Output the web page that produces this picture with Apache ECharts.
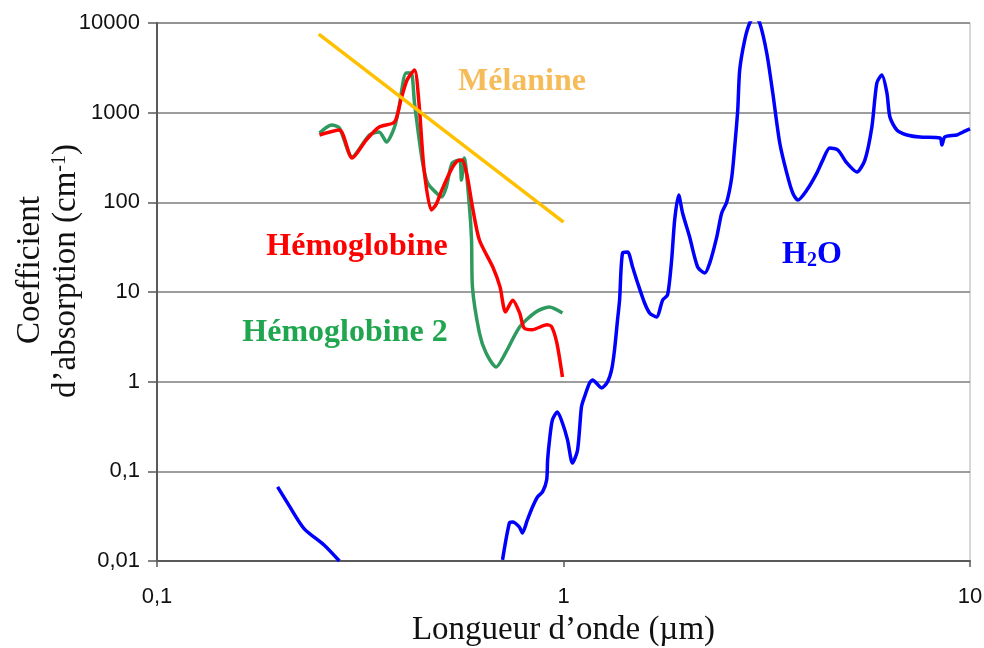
<!DOCTYPE html>
<html>
<head>
<meta charset="utf-8">
<script src="https://cdn.jsdelivr.net/npm/echarts@6/dist/echarts.min.js"></script>
<style>html,body{margin:0;padding:0;background:#fff}#c{width:984px;height:648px}</style>
</head>
<body>
<div id="c"></div>
<script>
// Wavelength (µm) and absorption coefficient (cm-1) pairs
var melanineX = [0.25, 1.0];
var melanineY = [7500, 60];

var hemoX = [0.251,0.281,0.302,0.327,0.352,0.384,0.398,0.412,0.43,0.441,0.454,0.473,0.486,0.502,0.529,0.548,0.563,0.58,0.597,0.621,0.67,0.698,0.72,0.75,0.78,0.80,0.837,0.91,0.935,0.963,0.994];
var hemoY = [564,641,312,495,692,787,1384,2300,2990,1283,230,82,95,137,230,289,297,192,89,38,19,11.4,6.0,8.1,5.84,3.97,3.8,4.3,4.1,2.7,1.13];

var hemo2X = [0.251,0.269,0.281,0.302,0.333,0.352,0.367,0.384,0.394,0.41,0.422,0.43,0.449,0.463,0.487,0.502,0.515,0.532,0.555,0.561,0.57,0.587,0.594,0.597,0.621,0.645,0.683,0.72,0.78,0.855,0.922,0.994];
var hemo2Y = [593,728,674,321,564,609,471,692,1157,2768,2768,1283,297,164,127,115,148,275,297,177,312,89,38,11.4,3.5,2.09,1.46,2.09,4.07,5.99,6.8,5.84];

var h2oUvX = [0.198,0.211,0.23,0.258,0.281];
var h2oUvY = [0.067,0.042,0.023,0.015,0.0100];

var h2oIrX = [0.708,0.736,0.749,0.779,0.792,0.815,0.839,0.863,0.888,0.909,0.914,0.924,0.939,0.966,0.994,1.023,1.052,1.083,1.107,1.126,1.159,1.179,1.241,1.283,1.313,1.335,1.358,1.374,1.397,1.438,1.479,1.522,1.583,1.629,1.694,1.754,1.803,1.845,1.877,1.920,1.963,2.043,2.138,2.225,2.289,2.382,2.450,2.521,2.594,2.637,2.683,2.713,2.791,2.871,2.954,3.039,3.162,3.272,3.404,3.542,3.664,3.771,3.968,4.199,4.344,4.519,4.73,4.977,5.268,5.513,5.736,5.90,6.07,6.246,6.353,6.607,6.998,7.53,8.44,8.53,8.67,9.29,9.61,10];
var h2oIrY = [0.0103,0.0265,0.0272,0.0239,0.0205,0.0287,0.040,0.0518,0.0589,0.080,0.134,0.224,0.374,0.459,0.346,0.224,0.124,0.173,0.522,0.675,0.967,1.045,0.851,0.991,1.35,2.25,4.87,8.15,27.2,27.9,19.0,12.6,7.54,5.83,5.26,8.15,9.27,22.7,63.5,121,76,41,19,16.3,21,41,76,101,192,414,1071,2990,6460,10000,12000,10000,4630,1656,459,212,127,106,137,212,296,404,383,275,218,296,692,2143,2630,1656,895,641,564,535,522,436,535,564,608,658];

var xTicks = [0.1, 1, 10];
var yTicks = [0.01, 0.1, 1, 10, 100, 1000, 10000];

function pairs(xs, ys) { return xs.map(function (x, i) { return [x, ys[i]]; }); }
function fmt(v) { return String(Number(Number(v).toPrecision(6))).replace('.', ','); }

var chart = echarts.init(document.getElementById('c'), null, { renderer: 'canvas' });
var lineCommon = { type: 'line', showSymbol: false, symbol: 'none', smooth: 0.25, clip: true };

chart.setOption({
  animation: false,
  backgroundColor: '#ffffff',
  grid: { left: 157, right: 14, top: 23, bottom: 87, show: true, borderColor: '#b0b0b0', borderWidth: 1, containLabel: false, outerBoundsMode: 'none' },
  xAxis: {
    type: 'log', logBase: 10, min: xTicks[0], max: xTicks[xTicks.length - 1],
    axisLine: { lineStyle: { color: '#5a5a5a', width: 2 } },
    axisTick: { show: true, length: 6, lineStyle: { color: '#5a5a5a', width: 1.5 } },
    axisLabel: { fontFamily: 'Liberation Sans', fontSize: 22, color: '#111', margin: 25, formatter: fmt },
    splitLine: { show: false },
    name: 'Longueur d\u2019onde (\u00b5m)', nameLocation: 'middle', nameGap: 53,
    nameTextStyle: { fontFamily: 'Liberation Serif', fontSize: 33, color: '#111' }
  },
  yAxis: {
    type: 'log', logBase: 10, min: yTicks[0], max: yTicks[yTicks.length - 1],
    axisLine: { show: true, lineStyle: { color: '#5a5a5a', width: 2 } },
    axisTick: { show: true, length: 9, lineStyle: { color: '#5a5a5a', width: 1.5 } },
    axisLabel: { fontFamily: 'Liberation Sans', fontSize: 22, color: '#111', margin: 17, formatter: fmt },
    splitLine: { show: true, lineStyle: { color: '#7c7c7c', width: 1.5 } }
  },
  graphic: [
    { type: 'text', x: 30, y: 270, rotation: Math.PI / 2,
      style: { text: 'Coefficient', fontFamily: 'Liberation Serif', fontSize: 33, fill: '#111', align: 'center', verticalAlign: 'middle' } },
    { type: 'text', x: 66, y: 271, rotation: Math.PI / 2,
      style: { text: 'd\u2019absorption (cm{sup|-1})', fontFamily: 'Liberation Serif', fontSize: 33, fill: '#111', align: 'center', verticalAlign: 'middle',
        rich: { sup: { fontFamily: 'Liberation Serif', fontSize: 20, fill: '#111', verticalAlign: 'top' } } } },
    { type: 'text', x: 522, y: 82,
      style: { text: 'M\u00e9lanine', fontFamily: 'Liberation Serif', fontWeight: 'bold', fontSize: 32, fill: '#F7BC5A', align: 'center', verticalAlign: 'middle' } },
    { type: 'text', x: 357, y: 247,
      style: { text: 'H\u00e9moglobine', fontFamily: 'Liberation Serif', fontWeight: 'bold', fontSize: 32, fill: '#FF0000', align: 'center', verticalAlign: 'middle' } },
    { type: 'text', x: 345, y: 333,
      style: { text: 'H\u00e9moglobine 2', fontFamily: 'Liberation Serif', fontWeight: 'bold', fontSize: 32, fill: '#1FA64E', align: 'center', verticalAlign: 'middle' } },
    { type: 'text', x: 812, y: 255,
      style: { text: 'H{sub|2}O', fontFamily: 'Liberation Serif', fontWeight: 'bold', fontSize: 32, fill: '#0000FF', align: 'center', verticalAlign: 'middle',
        rich: { sub: { fontFamily: 'Liberation Serif', fontWeight: 'bold', fontSize: 20, fill: '#0000FF', verticalAlign: 'bottom' } } } }
  ],
  series: [
    Object.assign({}, lineCommon, { name: 'H2O UV', data: pairs(h2oUvX, h2oUvY), lineStyle: { color: '#0000FF', width: 3.5 }, itemStyle: { color: '#0000FF' } }),
    Object.assign({}, lineCommon, { name: 'H2O', data: pairs(h2oIrX, h2oIrY), lineStyle: { color: '#0000FF', width: 3.5 }, itemStyle: { color: '#0000FF' } }),
    Object.assign({}, lineCommon, { name: 'Hémoglobine 2', data: pairs(hemo2X, hemo2Y), lineStyle: { color: '#2E9A5E', width: 3.5 }, itemStyle: { color: '#2E9A5E' } }),
    Object.assign({}, lineCommon, { name: 'Hémoglobine', data: pairs(hemoX, hemoY), lineStyle: { color: '#FF0000', width: 3.5 }, itemStyle: { color: '#FF0000' } }),
    Object.assign({}, lineCommon, { name: 'Mélanine', smooth: false, data: pairs(melanineX, melanineY), lineStyle: { color: '#FFC000', width: 3.5 }, itemStyle: { color: '#FFC000' } })
  ]
});
</script>
</body>
</html>
